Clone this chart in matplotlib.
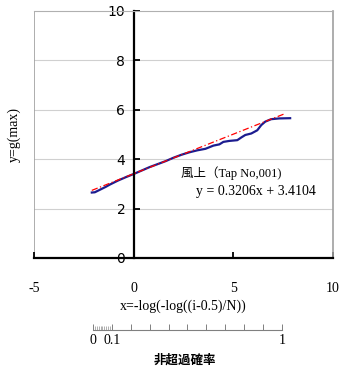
import numpy as np
import matplotlib
matplotlib.use("Agg")
import matplotlib.pyplot as plt

# datos
obs_x = [-2.1, -1.95, -1.8, -1.6, -1.4, -1.2, -0.8, -0.4, 0.0, 0.4, 0.8, 1.2, 1.6,
         2.0, 2.4, 2.8, 3.2, 3.6, 4.0, 4.3, 4.5, 4.8, 5.2, 5.4, 5.6, 5.9, 6.2,
         6.4, 6.6, 6.9, 7.3, 7.85]
obs_y = [2.65, 2.66, 2.72, 2.80, 2.88, 2.97, 3.13, 3.27, 3.40, 3.54, 3.68, 3.80, 3.92,
         4.06, 4.18, 4.28, 4.36, 4.42, 4.55, 4.60, 4.70, 4.74, 4.77, 4.88, 4.98, 5.04, 5.17,
         5.38, 5.52, 5.62, 5.65, 5.66]

slope = 0.3206
intercept = 3.4104
fit_x = np.array([-2.1, 7.6])

x_ticks = [-5, 0, 5, 10]
y_ticks = [0, 2, 4, 6, 8, 10]
prob_major = [0.1, 0.2, 0.3, 0.4, 0.5, 0.6, 0.7, 0.8, 0.9, 1.0]
prob_minor = [0.0, 0.01, 0.02, 0.03, 0.04, 0.05, 0.06, 0.07, 0.08, 0.09]
prob_labels = {0.0: "0", 0.1: "0.1", 1.0: "1"}

serif = ["Liberation Serif", "Noto Sans CJK JP"]

fig = plt.figure(figsize=(3.39, 3.71), dpi=100)
ax = fig.add_axes([0.1003, 0.3046, 0.8820, 0.6658])

ax.plot(fit_x, slope * fit_x + intercept, color="red", lw=0.9, ls=(0, (5, 2, 1, 2)), zorder=3)
ax.plot(obs_x, obs_y, color="#1c1c8f", lw=1.6, zorder=2)

ax.set_xlim(-5, 10)
ax.set_ylim(0, 10)
ax.set_xticks(x_ticks)
ax.set_yticks(y_ticks)
ax.set_xticklabels([str(v) for v in x_ticks], family=serif, fontsize=10)
ax.set_yticklabels([str(v) for v in y_ticks], family=serif, fontsize=10)

# rejilla y marco gris
for v in y_ticks[1:-1]:
    ax.axhline(v, color="#d0d0d0", lw=0.8, zorder=0)
ax.axvline(-5, color="#a0a0a0", lw=1.2, zorder=0)
ax.spines["top"].set_color("#b0b0b0")
ax.spines["right"].set_color("#a0a0a0")
ax.spines["right"].set_linewidth(1.2)
ax.spines["left"].set_position(("data", 0))
ax.spines["left"].set_linewidth(1.6)
ax.spines["bottom"].set_linewidth(1.6)
ax.tick_params(axis="y", direction="in", length=4, width=1.3, pad=6)
ax.tick_params(axis="x", direction="in", length=4, width=1.3, pad=17)

ax.set_ylabel("y=g(max)", family=serif, fontsize=10)
ax.yaxis.set_label_coords(-0.045, 0.5)
ax.set_xlabel("x=-log(-log((i-0.5)/N))", family=serif, fontsize=10)
ax.xaxis.set_label_coords(0.5, -0.17)

ax.text(2.35, 3.44, "風上（Tap No,001)", family=serif, fontsize=9, va="center")
ax.text(3.15, 2.71, "y = 0.3206x + 3.4104", family=serif, fontsize=10, va="center")

# escala de probabilidad de no excedencia
ax2 = fig.add_axes([0.2743, 0.1105, 0.5575, 0.001])
ax2.set_xlim(0, 1)
for s in ["top", "left", "right"]:
    ax2.spines[s].set_visible(False)
ax2.spines["bottom"].set_color("#808080")
ax2.spines["bottom"].set_linewidth(0.8)
ax2.set_yticks([])
ax2.set_xticks(prob_minor[:1] + prob_major)
ax2.set_xticklabels([prob_labels.get(round(v, 2), "") for v in prob_minor[:1] + prob_major],
                    family=serif, fontsize=10)
ax2.set_xticks(prob_minor[1:], minor=True)
ax2.tick_params(axis="x", which="major", direction="in", length=4, width=0.7, color="#808080", pad=3)
ax2.tick_params(axis="x", which="minor", direction="in", length=3, width=0.5, color="#909090")
ax2.patch.set_visible(False)

fig.text(0.546, 0.03, "非超過確率", family=["Noto Sans CJK JP", "DejaVu Sans"],
         fontsize=9, fontweight="bold", ha="center", va="center")

fig.savefig("out.png", dpi=100)
